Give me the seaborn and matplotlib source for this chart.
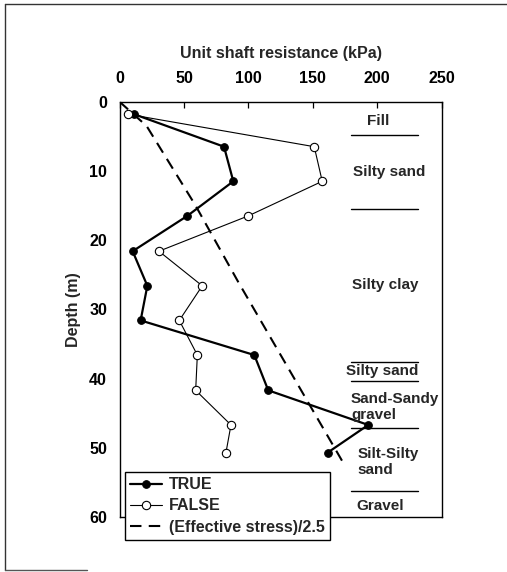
import numpy as np
import pandas as pd
import matplotlib
matplotlib.use("Agg")
import matplotlib.pyplot as plt
from matplotlib.lines import Line2D
import seaborn as sns

# ---- data ----
depth = [1.8, 6.5, 11.5, 16.5, 21.6, 26.6, 31.6, 36.6, 41.7, 46.7, 50.7]
true_res = [11.2, 81.1, 88.3, 52.6, 10.2, 21.6, 16.4, 104.6, 115.4, 193.0, 161.5]
false_res = [6.4, 151.1, 157.3, 99.9, 30.6, 64.2, 46.4, 60.4, 59.1, 86.5, 82.6]
stress_depth = [0.0, 3.5, 15.0, 26.0, 52.3]
stress_res = [0.0, 21.0, 59.0, 92.0, 174.0]

layer_names = ["Fill", "Silty sand", "Silty clay", "Silty sand",
               "Sand-Sandy\ngravel", "Silt-Silty\nsand", "Gravel"]
layer_label_depth = [2.75, 10.1, 26.5, 38.9, 44.1, 52.1, 58.4]
layer_label_x = [200.5, 208.9, 206.4, 204.0, 179.6, 184.8, 202.1]
layer_label_ha = ["center", "center", "center", "center", "left", "left", "center"]
boundary_depths = [4.8, 15.5, 37.6, 40.35, 47.2, 56.2]
x_ticks = [0, 50, 100, 150, 200, 250]
y_ticks = [0, 10, 20, 30, 40, 50, 60]

df_true = pd.DataFrame({"res": true_res, "depth": depth})
df_false = pd.DataFrame({"res": false_res, "depth": depth})
df_stress = pd.DataFrame({"res": stress_res, "depth": stress_depth})

sns.set_style("white")
plt.rcParams["font.family"] = ["Liberation Sans", "DejaVu Sans"]
plt.rcParams["font.weight"] = "bold"

fig = plt.figure(figsize=(5.07, 5.72), dpi=100)
ax = fig.add_axes([119.5 / 507, 1 - 517 / 572, (441.7 - 119.5) / 507, (517 - 101.7) / 572])

sns.lineplot(data=df_true, x="res", y="depth", orient="y", ax=ax, color="black",
             lw=1.6, marker="o", markersize=5.5, markerfacecolor="black",
             markeredgecolor="black", label="TRUE")
sns.lineplot(data=df_false, x="res", y="depth", orient="y", ax=ax, color="black",
             lw=0.8, marker="o", markersize=6, markerfacecolor="white",
             markeredgecolor="black", markeredgewidth=0.8, label="FALSE")
sns.lineplot(data=df_stress, x="res", y="depth", orient="y", ax=ax, color="black",
             lw=1.5, dashes=False, label="(Effective stress)/2.5")
ax.lines[-1].set_dashes([5.5, 3.5])

for d in boundary_depths:
    ax.plot([179.6, 231.3], [d, d], color="black", lw=1.0)
for name, d, xx, ha in zip(layer_names, layer_label_depth, layer_label_x, layer_label_ha):
    ax.text(xx, d, name, ha=ha, va="center", fontsize=11, fontweight="bold",
            linespacing=1.2)

ax.set_xlim(0, 250)
ax.set_ylim(60, 0)
ax.xaxis.tick_top()
ax.xaxis.set_label_position("top")
ax.set_xticks(x_ticks)
ax.set_yticks(y_ticks)
ax.tick_params(axis="both", direction="in", length=4, width=0.9, labelsize=11.5,
               colors="black")
ax.tick_params(axis="x", top=True, bottom=False, pad=11)
ax.tick_params(axis="y", pad=9)
for lbl in ax.get_xticklabels() + ax.get_yticklabels():
    lbl.set_fontweight("bold")
ax.set_xlabel("Unit shaft resistance (kPa)", fontsize=11.5, fontweight="bold", labelpad=10)
ax.set_ylabel("Depth (m)", fontsize=11.5, fontweight="bold", labelpad=6)
for sp in ax.spines.values():
    sp.set_color("black")
    sp.set_linewidth(1.0)

leg = ax.legend(loc="upper left", bbox_to_anchor=(0.017, 0.1076), fontsize=11.5,
                frameon=True, fancybox=False, edgecolor="black", framealpha=1,
                handlelength=2.0, handletextpad=0.45, borderpad=0.3, labelspacing=0.4,
                borderaxespad=0)
leg.get_frame().set_linewidth(1.0)
for t in leg.get_texts():
    t.set_fontweight("bold")

# outer scan frame
fig.add_artist(Line2D([5 / 507, 5 / 507], [568 / 572, 2 / 572], color="#333333", lw=1.0))
fig.add_artist(Line2D([5 / 507, 1.0], [568 / 572, 568 / 572], color="#333333", lw=1.0))
fig.add_artist(Line2D([5 / 507, 87 / 507], [2 / 572, 2 / 572], color="#555555", lw=1.0))

fig.savefig("out.png", dpi=100)
